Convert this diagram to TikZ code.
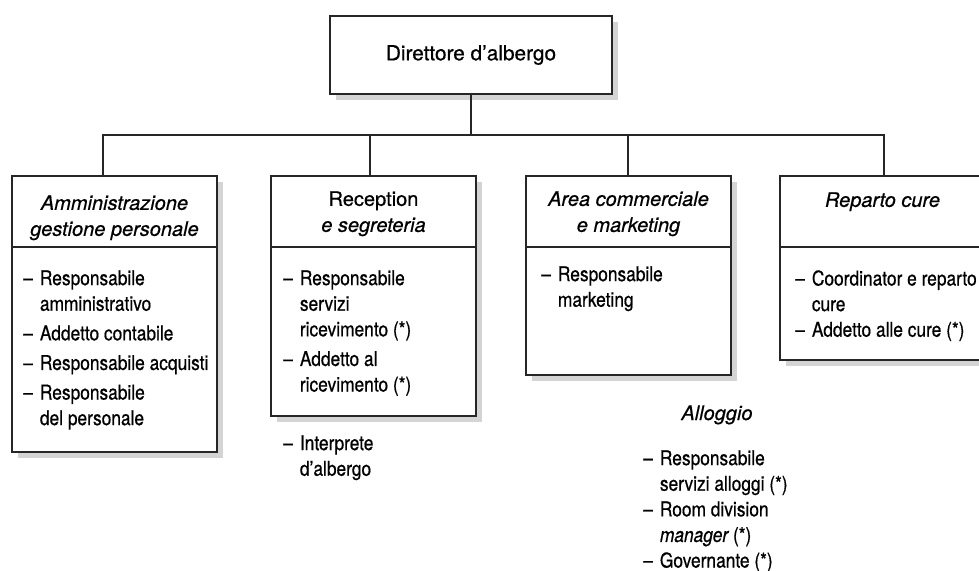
\documentclass[tikz,border=0pt]{standalone}
\usepackage{fontspec}
\setmainfont[FakeStretch=0.85,FakeBold=0.6]{TeX Gyre Heros}
\newfontfamily\widefont[FakeBold=0.6]{TeX Gyre Heros}
\usetikzlibrary{shadows}
\newcommand\hdfont{\widefont\fontsize{15}{19.5}\selectfont}
\newcommand\ttlfont{\widefont\fontsize{15.6}{19.5}\selectfont}
\newcommand\bdfont{\fontsize{15.3}{19.2}\selectfont}
\newcommand\dsh{\makebox[12.5pt][l]{–}}
\newcommand\ind{\hspace*{12.5pt}}
\begin{document}
\begin{tikzpicture}[x=0.75pt,y=-0.75pt,
  line/.style={draw=black!85, line width=0.9pt},
  box/.style={line, fill=white, rectangle, inner sep=0pt,
    drop shadow={shadow xshift=4.5pt, shadow yshift=-4.5pt, fill=black!17, opacity=1}},
  head/.style={font=\hdfont\itshape, align=center, anchor=north, inner sep=0pt},
  lst/.style={font=\bdfont, align=left, anchor=north west, inner sep=0pt}]
\useasboundingbox (0,0) rectangle (979,571);
\clip (0,0) rectangle (979,571);

% boxes
\node[box, font=\ttlfont, minimum width=211.5pt, minimum height=58.5pt] (top) at (471,55) {Direttore d’albergo};
\node[box, minimum width=153.75pt, minimum height=207pt] (b1) at (114.5,314) {};
\node[box, minimum width=153.75pt, minimum height=180pt] (b2) at (373.5,296) {};
\node[box, minimum width=153.75pt, minimum height=149.25pt] (b3) at (628.5,275.5) {};
\node[box, minimum width=153.75pt, minimum height=138pt] (b4) at (882.5,268) {};

% header/body dividers
\coordinate (dv) at (0,247);
\foreach \b in {b1,b2,b3,b4}
  \draw[line] (\b.west |- dv) -- (\b.east |- dv);

% connectors
\coordinate (bus) at (471,135);
\coordinate (j1) at (103,135);
\coordinate (j2) at (370,135);
\coordinate (j3) at (628,135);
\coordinate (j4) at (884,135);
\draw[line] (top.south) -- (bus);
\draw[line] (j1 |- b1.north) -- (j1) -- (j4) -- (j4 |- b4.north);
\draw[line] (j2) -- (j2 |- b2.north);
\draw[line] (j3) -- (j3 |- b3.north);

% headers
\node[head] (h1) at (114.5,195) {Amministrazione\\gestione personale};
\node[head] (h2) at (373.5,191) {\upshape Reception\\{\itshape e segreteria}};
\node[head] (h3) at (628.5,191) {Area commerciale\\e marketing};
\node[head] (h4) at (882.5,192) {Reparto cure};

% staff lists
\node[lst] (l1) at (23,270) {\dsh Responsabile\\\ind amministrativo\\[3pt]
  \dsh Addetto contabile\\[3pt]
  \dsh Responsabile acquisti\\[3pt]
  \dsh Responsabile\\\ind del personale};
\node[lst] (l2) at (283,270) {\dsh Responsabile\\\ind servizi\\\ind ricevimento (*)\\[3pt]
  \dsh Addetto al\\\ind ricevimento (*)};
\node[lst] (l3) at (541,266) {\dsh Responsabile\\\ind marketing};
\node[lst] (l4) at (795,270) {\dsh Coordinator e reparto\\\ind cure\\
  \dsh Addetto alle cure (*)};
\node[lst] (l5) at (283,435) {\dsh Interprete\\\ind d’albergo};

% lodging group
\node[font=\hdfont\itshape, inner sep=0pt, anchor=base] (al) at (717,420) {Alloggio};
\node[lst] (l6) at (643,450) {\dsh Responsabile\\\ind servizi alloggi (*)\\
  \dsh Room division\\\ind {\itshape manager} (*)\\
  \dsh Governante (*)};
\end{tikzpicture}
\end{document}
